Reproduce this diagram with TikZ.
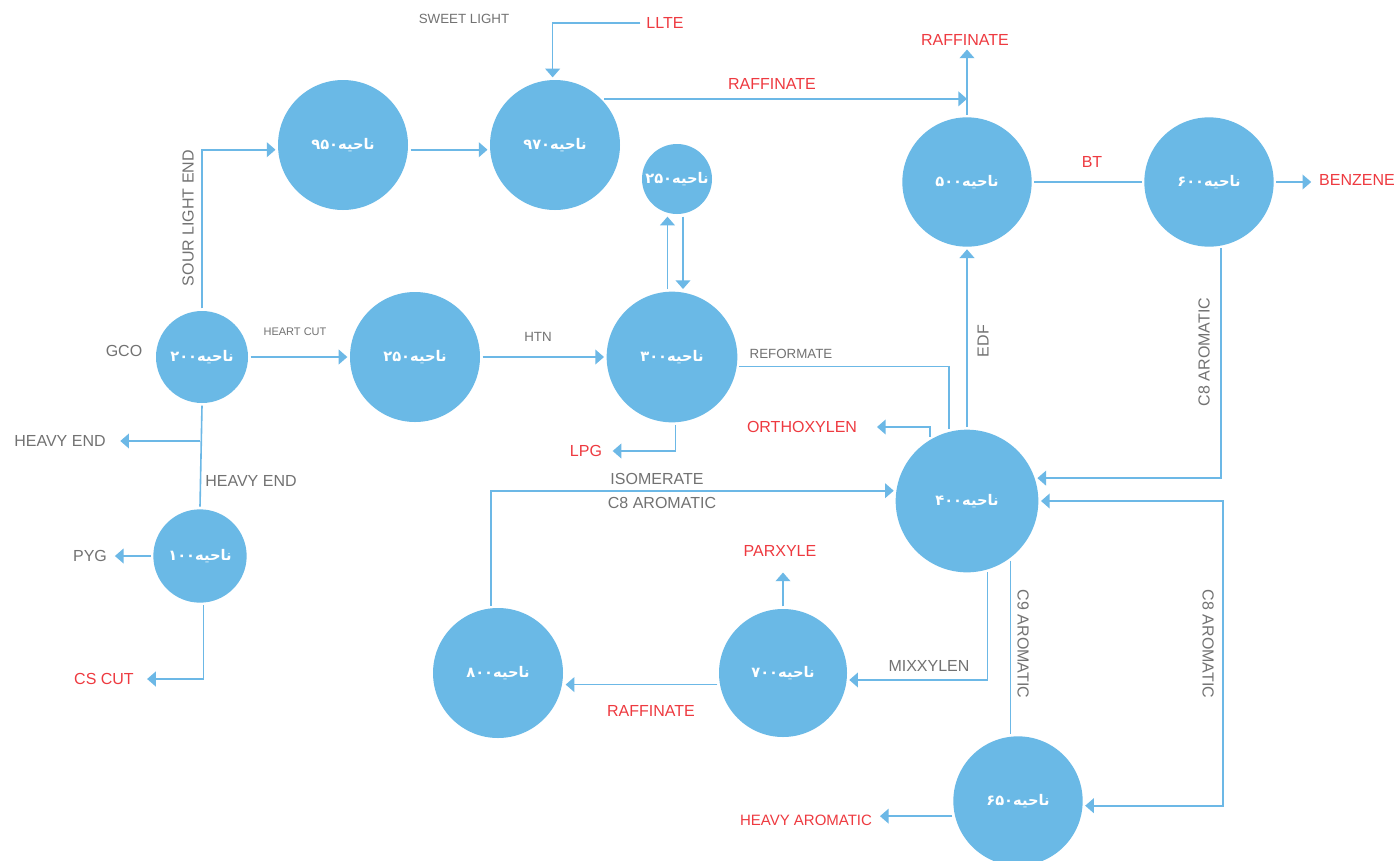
\documentclass[tikz,border=0pt]{standalone}
\usepackage{fontspec}
\setmainfont{Liberation Sans}
\newfontfamily\arabicfont[Script=Arabic]{DejaVu Sans}
\TeXXeTstate=1
\usetikzlibrary{arrows.meta}

\definecolor{zoneblue}{HTML}{6AB9E6}
\definecolor{pipeblue}{HTML}{6CB8E6}
\definecolor{txtgray}{HTML}{727272}
\definecolor{txtred}{HTML}{EE3A40}

\newcommand{\zone}[1]{\beginR ناحیه\beginL#1\endL\endR}

\tikzset{
  unit/.style={circle, fill=zoneblue, inner sep=0pt, outer sep=2pt,
    minimum size=#1, text=white,
    font=\arabicfont\bfseries\fontsize{11}{13}\selectfont},
  lbl/.style={inner sep=0pt, outer sep=0pt, text=txtgray,
    font=\fontsize{12}{14}\selectfont},
  prod/.style={lbl, text=txtred},
  midlbl/.style={lbl, font=\fontsize{10}{12}\selectfont},
  smalllbl/.style={lbl, font=\fontsize{8.25}{10}\selectfont},
  flow/.style={draw=pipeblue, line width=1.2pt}
}

\begin{document}
\begin{tikzpicture}[x=0.75pt, y=-0.75pt, >={Triangle[width=11pt,length=6.5pt]}]
  \useasboundingbox[fill=white] (0,0) rectangle (1397,861);

  % units
  \node[unit=69pt]   (u200)  at (202,357)  {\zone{۲۰۰}};
  \node[unit=97.5pt] (u250)  at (415,357)  {\zone{۲۵۰}};
  \node[unit=97.5pt] (u950)  at (343,145)  {\zone{۹۵۰}};
  \node[unit=97.5pt] (u970)  at (555,145)  {\zone{۹۷۰}};
  \node[unit=52.5pt] (u250b) at (677,179)  {\zone{۲۵۰}};
  \node[unit=98pt]   (u300)  at (672,357)  {\zone{۳۰۰}};
  \node[unit=97pt]   (u500)  at (967,182)  {\zone{۵۰۰}};
  \node[unit=97pt]   (u600)  at (1209,182) {\zone{۶۰۰}};
  \node[unit=107pt]  (u400)  at (967,501)  {\zone{۴۰۰}};
  \node[unit=70pt]   (u100)  at (200,556)  {\zone{۱۰۰}};
  \node[unit=97.5pt] (u800)  at (498,673)  {\zone{۸۰۰}};
  \node[unit=96pt]   (u700)  at (783,673)  {\zone{۷۰۰}};
  \node[unit=97pt]   (u650)  at (1018,801) {\zone{۶۵۰}};

  % stream labels
  \node[midlbl] (sweet) at (464,19) {SWEET LIGHT};
  \node[prod] (llte) at (665,23) {LLTE};
  \node[prod] (raffT) at (965,40) {RAFFINATE};
  \node[prod] (raffM) at (772,84) {RAFFINATE};
  \node[lbl, rotate=90] (sour) at (188,218) {SOUR LIGHT END};
  \node[prod] (bt) at (1092,162) {BT};
  \node[prod] (benz) at (1357,180) {BENZENE};
  \node[lbl] (gco) at (124,351) {GCO};
  \node[smalllbl] (heart) at (295,332) {HEART CUT};
  \node[midlbl] (htn) at (538,337) {HTN};
  \node[midlbl] (reform) at (791,354) {REFORMATE};
  \node[lbl, rotate=90] (edf) at (983,341) {EDF};
  \node[lbl, rotate=90] (c8up) at (1204,352) {C8 AROMATIC};
  \node[prod] (ortho) at (802,427) {ORTHOXYLEN};
  \node[lbl] (heavyL) at (60,441) {HEAVY END};
  \node[prod] (lpg) at (586,451) {LPG};
  \node[lbl] (heavyR) at (251,481) {HEAVY END};
  \node[lbl] (isom) at (657,479) {ISOMERATE};
  \node[lbl] (c8mid) at (662,503) {C8 AROMATIC};
  \node[prod] (parx) at (780,551) {PARXYLE};
  \node[lbl] (pyg) at (90,556) {PYG};
  \node[lbl, rotate=-90] (c9) at (1023,644) {C9 AROMATIC};
  \node[lbl, rotate=-90] (c8low) at (1208,644) {C8 AROMATIC};
  \node[lbl] (mixx) at (929,666) {MIXXYLEN};
  \node[prod] (cscut) at (104,679) {CS CUT};
  \node[prod] (raffL) at (651,711) {RAFFINATE};
  \node[prod, font=\fontsize{11.25}{13}\selectfont] (heavyA) at (806,820) {HEAVY AROMATIC};

  \coordinate (hebranch) at (200,441);
  \coordinate (c8side) at (1223,650);

  % streams
  \draw[flow, ->] (u200.north) |- (u950.184);
  \draw[flow, ->] (u950.-4) -- (u970.184);
  \draw[flow, ->, shorten <=4.5pt] (llte.west) -| (u970.92);
  \draw[flow, ->] (u970.43) -- (u970.43 -| u500.north);
  \draw[flow, ->, shorten >=3pt] (u500.north) -- (u500.north |- raffT.south);
  \draw[flow] (u500.east) -- (u600.west);
  \draw[flow, ->, shorten >=6pt] (u600.east) -- (u600.east -| benz.west);
  \draw[flow, ->] (u600.-80) |- (u400.18);
  \draw[flow, ->] (u400.north) -- (u500.south);
  \draw[flow] (u300.-8) -| (u400.104);
  \draw[flow, ->, shorten >=15pt] (u400.120) |- (ortho.east);
  \draw[flow, ->] (u200.east) -- (u250.west);
  \draw[flow, ->] (u250.east) -- (u300.west);
  \draw[flow, ->] ([xshift=-3.4pt]u300.north) -- ([xshift=-3.4pt]u300.north |- u250b.south);
  \draw[flow, ->] ([xshift=4.5pt]u250b.south) -- ([xshift=4.5pt]u250b.south |- u300.north);
  \draw[flow, ->, shorten >=8pt] (u300.-87) |- (lpg.east);
  \draw[flow] (u200.south) -- (u100.north);
  \draw[flow, ->, shorten >=11pt] (hebranch) -- (hebranch -| heavyL.east);
  \draw[flow, ->, shorten >=6pt] (u100.west) -- (u100.west -| pyg.east);
  \draw[flow, ->, shorten >=10pt] (u100.-86) |- (cscut.east);
  \draw[flow, ->] (u800.96) |- (u400.172);
  \draw[flow, ->, shorten >=12pt] (u700.north) -- (u700.north |- parx.south);
  \draw[flow, ->] (u700.190) -- (u700.190 -| u800.east);
  \draw[flow, ->] (u400.-74) |- (u700.-6);
  \draw[flow] (u400.-54) -- (u400.-54 |- u650.north);
  \draw[flow, <->] (u400.east) -| (c8side) |- (u650.-4);
  \draw[flow, ->, shorten >=6pt] (u650.193) -- (u650.193 -| heavyA.east);
\end{tikzpicture}
\end{document}
